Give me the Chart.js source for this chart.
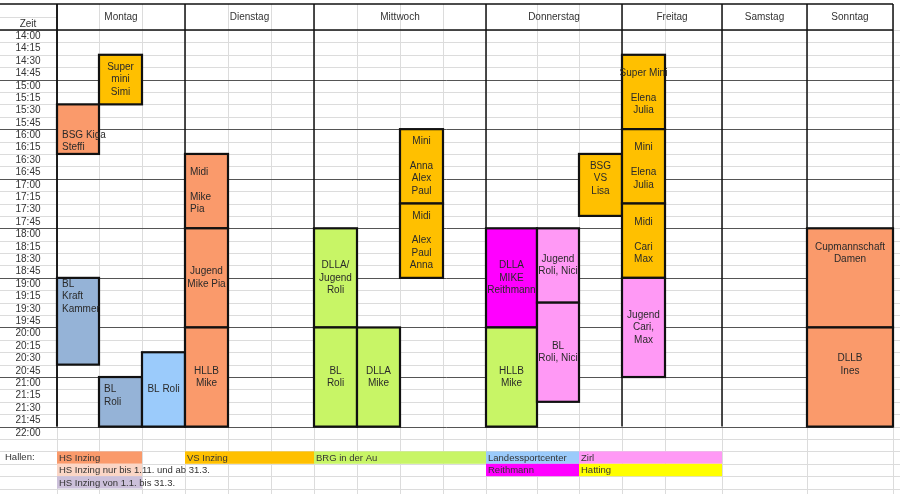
<!DOCTYPE html>
<html>
<head>
<meta charset="utf-8">
<script src="https://cdn.jsdelivr.net/npm/chart.js@4.4.1/dist/chart.umd.min.js"></script>
<style>
  body { margin: 0; background: #fff; }
  canvas { display: block; }
</style>
</head>
<body>
<canvas id="plan" width="900" height="494"></canvas>
<script>
// Tage und Zeiten
const days = ["Montag", "Dienstag", "Mittwoch", "Donnerstag", "Freitag", "Samstag", "Sonntag"];
const timeLabels = ["14:00","14:15","14:30","14:45","15:00","15:15","15:30","15:45",
  "16:00","16:15","16:30","16:45","17:00","17:15","17:30","17:45",
  "18:00","18:15","18:30","18:45","19:00","19:15","19:30","19:45",
  "20:00","20:15","20:30","20:45","21:00","21:15","21:30","21:45","22:00"];

// Trainingseinheiten (Spalte = Tabellenspalte, Zeiten in Stunden)
const blockLabels = [
  ["Super", "mini", "Simi"],
  ["", "", "BSG Kiga", "Steffi"],
  ["BL", "Kraft", "Kammer", "", "", "", ""],
  ["BL", "Roli", ""],
  ["BL Roli"],
  ["Midi", "", "Mike", "Pia"],
  ["Jugend", "Mike Pia"],
  ["HLLB", "Mike"],
  ["DLLA/", "Jugend", "Roli"],
  ["BL", "Roli"],
  ["DLLA", "Mike"],
  ["Mini", "", "Anna", "Alex", "Paul"],
  ["Midi", "", "Alex", "Paul", "Anna"],
  ["DLLA", "MIKE", "Reithmann"],
  ["HLLB", "Mike"],
  ["Jugend", "Roli, Nici"],
  ["BL", "Roli, Nici"],
  ["BSG", "VS", "Lisa", ""],
  ["Super Mini", "", "Elena", "Julia"],
  ["Mini", "", "Elena", "Julia"],
  ["Midi", "", "Cari", "Max"],
  ["Jugend", "Cari,", "Max"],
  ["Cupmannschaft", "Damen", "", "", "", ""],
  ["DLLB", "Ines", "", ""]
];
const blockColumns = [1, 0, 0, 1, 2, 3, 3, 3, 6, 6, 7, 8, 8, 10, 10, 11, 11, 12, 13, 13, 13, 13, 16, 16];
const blockSpans   = [1, 1, 1, 1, 1, 1, 1, 1, 1, 1, 1, 1, 1, 1, 1, 1, 1, 1, 1, 1, 1, 1, 1, 1];
const blockStarts  = [14.5, 15.5, 19, 21, 20.5, 16.5, 18, 20, 18, 20, 20, 16, 17.5, 18, 20, 18, 19.5, 16.5, 14.5, 16, 17.5, 19, 18, 20];
const blockEnds    = [15.5, 16.5, 20.75, 22, 22, 18, 20, 22, 20, 22, 22, 17.5, 19, 20, 22, 19.5, 21.5, 17.75, 16, 17.5, 19, 21, 20, 22];
const blockHalls   = ["VS", "HS", "LSCw", "LSCw", "LSC", "HS", "HS", "HS", "BRG", "BRG", "BRG", "VS", "VS",
  "REI", "BRG", "ZIRL", "ZIRL", "VS", "VS", "VS", "VS", "ZIRL", "HS", "HS"];

// Hallen-Legende
const hallNames = ["HS Inzing", "VS Inzing", "BRG in der Au", "Landessportcenter", "Zirl",
  "HS Inzing nur bis 1.11. und ab 31.3.", "Reithmann", "Hatting", "HS Inzing von 1.1. bis 31.3."];

// --- Layout / Stil ---
const colEdges = [0, 42, 85, 128, 171, 214, 257, 300, 343, 386, 429, 480, 522, 565, 608, 665, 750, 836];
const dayEdges = [0, 128, 257, 429, 565, 665, 750, 836];
const hallColors = { HS: "#fa9a6b", VS: "#ffc000", BRG: "#c8f566", LSC: "#9bcbfb", LSCw: "#95b3d7",
  ZIRL: "#ff99f5", REI: "#ff00ff", HAT: "#ffff00" };
const leftAligned = [1, 2, 3, 5];
const legendCells = [ // [row, col from, col to (exclusive), fill]
  [0, 0, 2, "#fa9a6b"], [0, 3, 6, "#ffc000"], [0, 6, 10, "#c8f566"], [0, 10, 12, "#9bcbfb"], [0, 12, 15, "#ff99f5"],
  [1, 0, 2, "#fbd6c6"], [1, 10, 12, "#ff00ff"], [1, 12, 15, "#ffff00"],
  [2, 0, 2, "#ccc0da"]
];
const FONT = "'Liberation Sans', Arial, sans-serif";

const gridPlugin = {
  id: "grid",
  beforeDatasetsDraw(chart) {
    const { ctx, scales: { x, y } } = chart;
    const row = y.getPixelForValue(14.25) - y.getPixelForValue(14);
    const top = y.getPixelForValue(14), bottom = y.getPixelForValue(22.25);
    const left = x.getPixelForValue(0), right = x.getPixelForValue(836);
    ctx.save();
    // light spreadsheet grid
    ctx.strokeStyle = "#dcdcdc";
    ctx.lineWidth = 1;
    for (let i = 0; i <= 33 + 4; i++) {
      const py = Math.round(top + i * row) + 0.5;
      ctx.beginPath(); ctx.moveTo(0, py); ctx.lineTo(900, py); ctx.stroke();
    }
    colEdges.forEach(c => {
      const px = Math.round(x.getPixelForValue(c)) + 0.5;
      ctx.beginPath(); ctx.moveTo(px, 4); ctx.lineTo(px, 494); ctx.stroke();
    });
    ctx.beginPath(); ctx.moveTo(0, 17.5); ctx.lineTo(left, 17.5); ctx.stroke();
    // hour lines
    ctx.strokeStyle = "#555";
    for (let h = 15; h <= 22; h++) {
      const py = Math.round(y.getPixelForValue(h)) + 0.5;
      ctx.beginPath(); ctx.moveTo(0, py); ctx.lineTo(right, py); ctx.stroke();
    }
    // header borders
    ctx.strokeStyle = "#111";
    ctx.lineWidth = 1.5;
    [4, top].forEach(py => { ctx.beginPath(); ctx.moveTo(0, py); ctx.lineTo(right, py); ctx.stroke(); });
    ctx.beginPath(); ctx.moveTo(left, 4); ctx.lineTo(left, y.getPixelForValue(22)); ctx.stroke();
    dayEdges.forEach(d => {
      const px = x.getPixelForValue(d);
      ctx.beginPath(); ctx.moveTo(px, 4); ctx.lineTo(px, y.getPixelForValue(22)); ctx.stroke();
    });
    // texts
    ctx.fillStyle = "#333";
    ctx.font = "10px " + FONT;
    ctx.textAlign = "center";
    ctx.textBaseline = "middle";
    ctx.fillText("Zeit", 28, 24);
    days.forEach((d, i) => {
      ctx.fillText(d, (x.getPixelForValue(dayEdges[i]) + x.getPixelForValue(dayEdges[i + 1])) / 2, 17);
    });
    timeLabels.forEach((t, i) => {
      ctx.fillText(t, 28, y.getPixelForValue(14 + i * 0.25 + 0.125));
    });
    // legend
    const ly = bottom + row;
    ctx.textAlign = "left";
    ctx.font = "9.5px " + FONT;
    ctx.fillText("Hallen:", 5, ly + row / 2);
    legendCells.forEach((c, i) => {
      const x0 = x.getPixelForValue(colEdges[c[1]]), x1 = x.getPixelForValue(colEdges[c[2]]);
      const y0 = ly + c[0] * row;
      ctx.fillStyle = c[3];
      ctx.fillRect(x0, y0, x1 - x0, row);
      ctx.fillStyle = "#333";
      ctx.fillText(hallNames[i], x0 + 2, y0 + row / 2 + 0.5);
    });
    ctx.restore();
  }
};

const blockPlugin = {
  id: "blocks",
  afterDatasetsDraw(chart) {
    const { ctx, scales: { x, y } } = chart;
    const row = y.getPixelForValue(14.25) - y.getPixelForValue(14);
    ctx.save();
    blockLabels.forEach((lines, i) => {
      const x0 = x.getPixelForValue(colEdges[blockColumns[i]]);
      const x1 = x.getPixelForValue(colEdges[blockColumns[i] + blockSpans[i]]);
      const y0 = y.getPixelForValue(blockStarts[i]);
      const y1 = y.getPixelForValue(blockEnds[i]);
      ctx.fillStyle = hallColors[blockHalls[i]];
      ctx.fillRect(x0, y0, x1 - x0, y1 - y0);
      ctx.strokeStyle = "#111";
      ctx.lineWidth = 2.2;
      ctx.strokeRect(x0, y0, x1 - x0, y1 - y0);
      ctx.fillStyle = "#2a2a2a";
      ctx.font = "10px " + FONT;
      ctx.textBaseline = "middle";
      const left = leftAligned.includes(i);
      ctx.textAlign = left ? "left" : "center";
      const tx = left ? x0 + 5 : (x0 + x1) / 2;
      const cy = (y0 + y1) / 2;
      lines.forEach((l, k) => {
        ctx.fillText(l, tx, cy + (k - (lines.length - 1) / 2) * row);
      });
    });
    ctx.restore();
  }
};

new Chart(document.getElementById("plan"), {
  type: "bar",
  data: { labels: [], datasets: [] },
  options: {
    responsive: false,
    animation: false,
    devicePixelRatio: 1,
    layout: { padding: { left: 57, right: 7, top: 30, bottom: 55 } },
    plugins: { legend: { display: false }, tooltip: { enabled: false } },
    scales: {
      x: { type: "linear", min: 0, max: 836, offset: false, display: false },
      y: { type: "linear", min: 14, max: 22.25, reverse: true, display: false }
    }
  },
  plugins: [gridPlugin, blockPlugin]
});
</script>
</body>
</html>
